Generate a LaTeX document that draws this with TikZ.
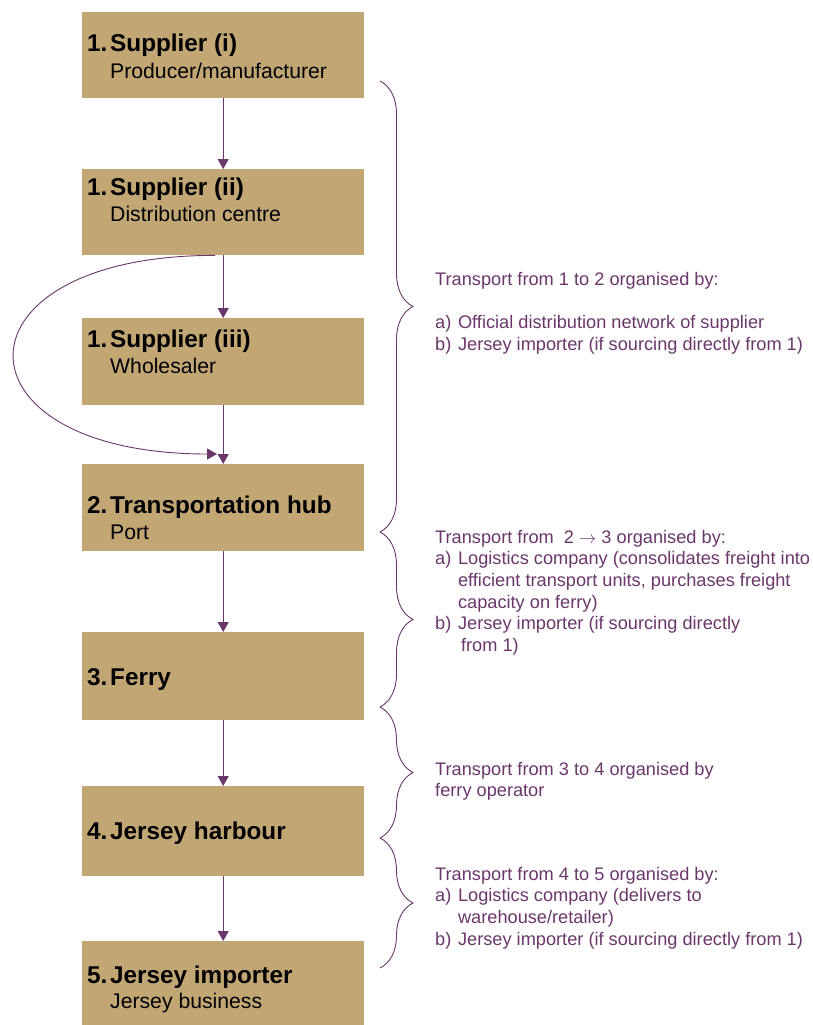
\documentclass[tikz,border=0pt]{standalone}
\usepackage{fontspec}
\setmainfont{Liberation Sans}
\usetikzlibrary{arrows.meta, decorations.pathreplacing}

\definecolor{boxtan}{RGB}{194,167,117}
\definecolor{plum}{RGB}{107,55,107}

\tikzset{
    stage/.style={fill=boxtan, minimum width=282pt, inner sep=0pt, anchor=north west},
    num/.style={anchor=base west, inner sep=0pt, font=\fontsize{24.3}{29}\selectfont\bfseries},
    subline/.style={anchor=base west, inner sep=0pt, font=\fontsize{21.2}{26}\selectfont},
    note/.style={anchor=base west, inner sep=0pt, text=plum, font=\fontsize{18.2}{21.7}\selectfont},
    flow/.style={draw=plum, line width=0.9pt, -{Triangle[length=10pt, width=11pt]}},
    curly/.style={draw=plum, line width=0.9pt, decorate, decoration={brace, amplitude=33pt}}
}

\begin{document}
\begin{tikzpicture}[x=1pt, y=-1pt]
        \useasboundingbox (0,0) rectangle (812,1025);

        \node[stage, minimum height=86pt] (sup1) at (82,12) {};
        \node[stage, minimum height=86pt] (sup2) at (82,169) {};
        \node[stage, minimum height=87pt] (sup3) at (82,318) {};
        \node[stage, minimum height=87pt] (hub) at (82,464) {};
        \node[stage, minimum height=88pt] (ferry) at (82,632) {};
        \node[stage, minimum height=90pt] (harbour) at (82,786) {};
        \node[stage, minimum height=84pt] (importer) at (82,941) {};

        \node[num] (n1) at (87,52) {1.};
        \node[num] (t1) at (110,52) {Supplier (i)};
        \node[subline] (s1) at (110,78) {Producer/manufacturer};

        \node[num] (n2) at (87,195) {1.};
        \node[num] (t2) at (110,195) {Supplier (ii)};
        \node[subline] (s2) at (110,221.5) {Distribution centre};

        \node[num] (n3) at (87,347) {1.};
        \node[num] (t3) at (110,347) {Supplier (iii)};
        \node[subline] (s3) at (110,373) {Wholesaler};

        \node[num] (n4) at (87,513) {2.};
        \node[num] (t4) at (110,513) {Transportation hub};
        \node[subline] (s4) at (110,539) {Port};

        \node[num] (n5) at (87,685) {3.};
        \node[num] (t5) at (110,685) {Ferry};

        \node[num] (n6) at (87,839) {4.};
        \node[num] (t6) at (110,839) {Jersey harbour};

        \node[num] (n7) at (87,983) {5.};
        \node[num] (t7) at (110,983) {Jersey importer};
        \node[subline] (s7) at (110,1008) {Jersey business};

        \draw[flow] (sup1) -- (sup2);
        \draw[flow] (sup2) -- (sup3);
        \draw[flow] (sup3) -- (hub);
        \draw[flow] (hub) -- (ferry);
        \draw[flow] (ferry) -- (harbour);
        \draw[flow] (harbour) -- (importer);

        \coordinate (skipA) at ([xshift=-8pt]sup2.south);
        \coordinate (skipB) at (217,454);
        \draw[flow] (skipA) .. controls (-53,255) and (-53,454) .. (skipB);

        \coordinate (b1) at (380,81);
        \coordinate (b2) at (380,532);
        \coordinate (b3) at (380,707);
        \coordinate (b4) at (380,838);
        \coordinate (b5) at (380,968);
        \draw[curly] (b1) -- (b2);
        \draw[curly] (b2) -- (b3);
        \draw[curly] (b3) -- (b4);
        \draw[curly] (b4) -- (b5);

        \node[note] (by12) at (435,285) {\begin{tabular}[t]{@{}l@{\hspace{6.7pt}}l@{}}
            \multicolumn{2}{@{}l@{}}{Transport from 1 to 2 organised by:}\\
            \\
            a) & Official distribution network of supplier\\
            b) & Jersey importer (if sourcing directly from 1)
        \end{tabular}};

        \node[note] (by23) at (435,543) {\begin{tabular}[t]{@{}l@{\hspace{6.7pt}}l@{}}
            \multicolumn{2}{@{}l@{}}{Transport from\ \ 2 $\rightarrow$ 3 organised by:}\\
            a) & Logistics company (consolidates freight into\\
               & efficient transport units, purchases freight\\
               & capacity on ferry)\\
            b) & Jersey importer (if sourcing directly\\
               & \hspace{3pt}from 1)
        \end{tabular}};

        \node[note] (by34) at (435,775) {\begin{tabular}[t]{@{}l@{}}
            Transport from 3 to 4 organised by\\
            ferry operator
        \end{tabular}};

        \node[note] (by45) at (435,880) {\begin{tabular}[t]{@{}l@{\hspace{6.7pt}}l@{}}
            \multicolumn{2}{@{}l@{}}{Transport from 4 to 5 organised by:}\\
            a) & Logistics company (delivers to\\
               & warehouse/retailer)\\
            b) & Jersey importer (if sourcing directly from 1)
        \end{tabular}};
    \end{tikzpicture}
\end{document}
